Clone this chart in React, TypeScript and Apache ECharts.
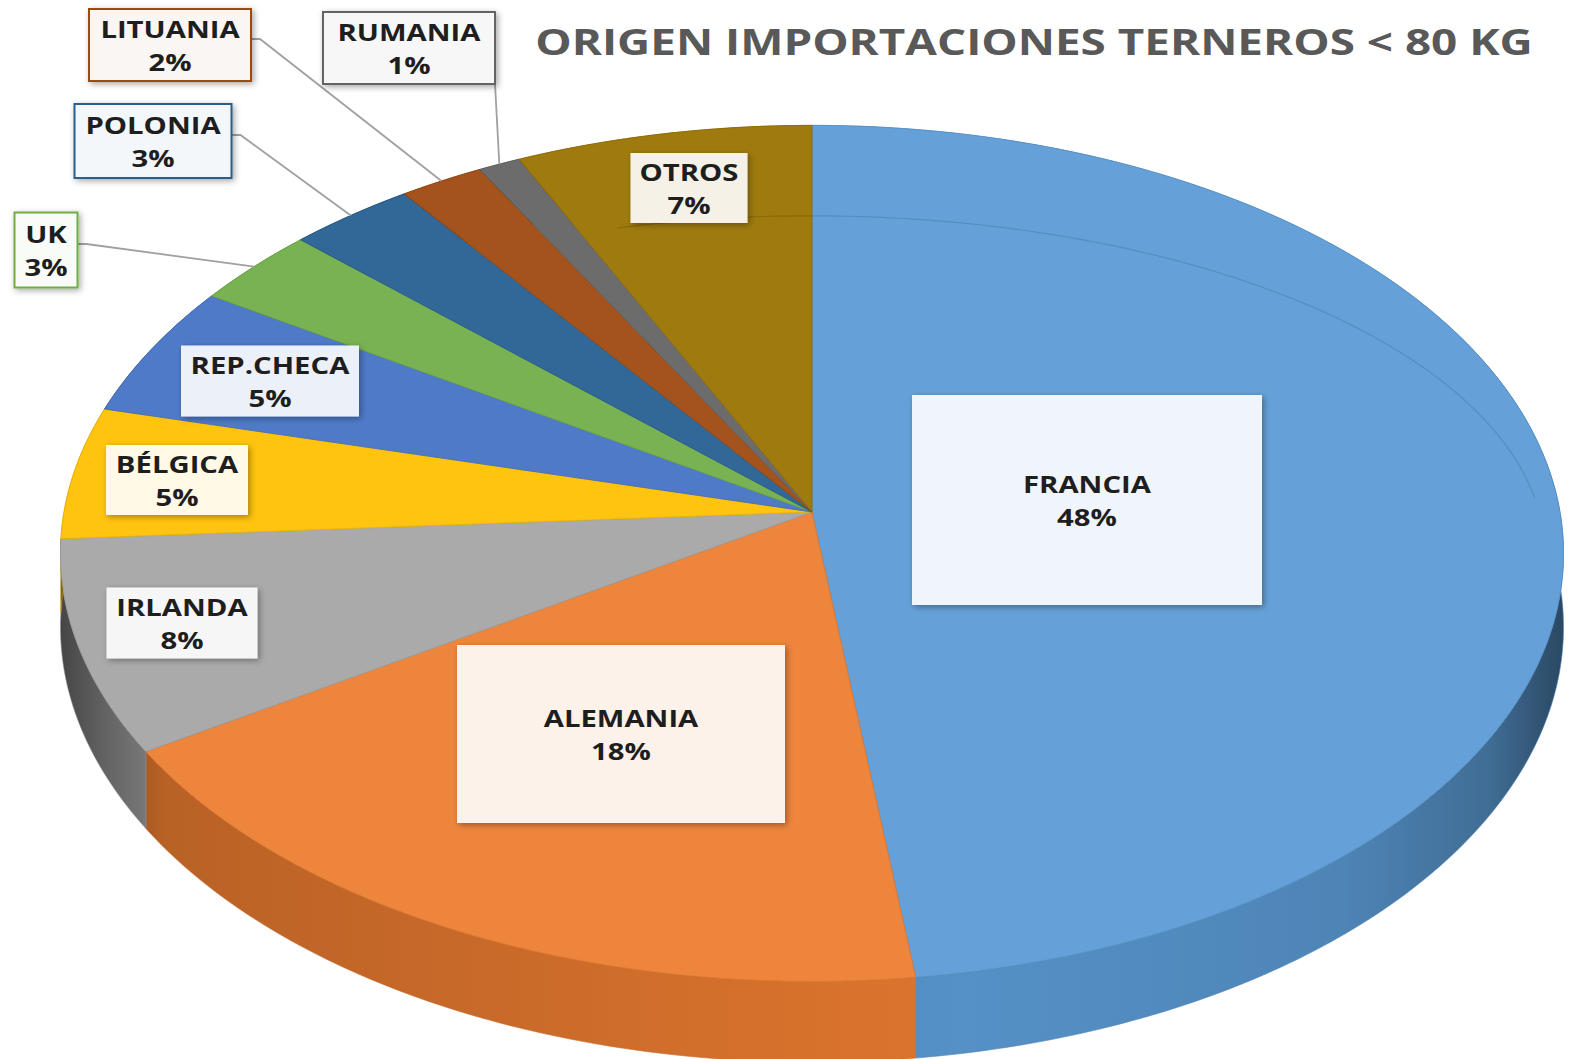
import React, { useEffect, useRef } from "react";
import * as echarts from "echarts";

// ---------- data ----------
const TITLE = "ORIGEN IMPORTACIONES TERNEROS < 80 KG";
const CATEGORIES = ["FRANCIA", "ALEMANIA", "IRLANDA", "BÉLGICA", "REP.CHECA", "UK", "POLONIA", "LITUANIA", "RUMANIA", "OTROS"];
const VALUES = [48, 18, 8, 5, 5, 3, 3, 2, 1, 7];
const COLORS = ["#5B9BD5", "#ED7D31", "#A5A5A5", "#FFC000", "#4472C4", "#70AD47", "#255E91", "#9E480E", "#636363", "#997300"];

// ---------- layout (label boxes: center x, center y, width, height, kind) ----------
const LABEL_LAYOUT: [number, number, number, number, string][] = [
  [1087, 500, 350, 210, "in"],
  [621, 734, 328, 178, "in"],
  [182, 623, 151, 71, "in"],
  [177, 480, 142, 70, "in"],
  [270, 381, 178, 71, "in"],
  [46, 250, 63, 75, "right"],
  [153, 141, 157, 74, "right"],
  [170, 45, 162, 72, "right"],
  [409, 48, 172, 72, "bottom"],
  [689, 188, 117, 70, "in"],
];

// pie geometry (3D perspective ellipse)
const CX = 812;
const CY = 512;
const RX = 748;
const RY = 424;
const PERSP = 0.0967;
const DEPTH = 73;
// angular range (deg, clockwise from top) of the faint reflection ring on the top face
const RING_FROM = -17;
const RING_TO = 86;

const TOTAL = VALUES.reduce((a, b) => a + b, 0);
const STARTS: number[] = [];
{
  let acc = 0;
  for (const v of VALUES) {
    STARTS.push((acc / TOTAL) * 360);
    acc += v;
  }
}

function proj(theta: number, r = 1, down = 0): [number, number] {
  const t = (theta * Math.PI) / 180;
  const u = r * Math.sin(t);
  const v = r * Math.cos(t);
  const k = 1 / (1 + PERSP * v);
  return [CX + RX * u * k, CY - RY * v * k + down * k];
}

function arc(a: number, b: number, down = 0): [number, number][] {
  const pts: [number, number][] = [];
  const n = Math.max(2, Math.ceil((b - a) / 0.8));
  for (let i = 0; i <= n; i++) pts.push(proj(a + ((b - a) * i) / n, 1, down));
  return pts;
}

function innerRing(a: number, b: number): [number, number][] {
  const pts: [number, number][] = [];
  const n = Math.max(2, Math.ceil((b - a) / 0.8));
  for (let i = 0; i <= n; i++) {
    const [x, y] = proj(a + ((b - a) * i) / n, 1);
    pts.push([CX + (x - CX) * 0.975, 556 - (556 - y) * 0.79]);
  }
  return pts;
}

function rgb(h: string): number[] {
  const n = parseInt(h.slice(1), 16);
  return [(n >> 16) & 255, (n >> 8) & 255, n & 255];
}
function shade(h: string, f: number): string {
  const [r, g, b] = rgb(h);
  return `rgb(${Math.round(r * f)},${Math.round(g * f)},${Math.round(b * f)})`;
}
function tint(h: string, t: number): string {
  const [r, g, b] = rgb(h);
  return `rgb(${Math.round(r + (255 - r) * t)},${Math.round(g + (255 - g) * t)},${Math.round(b + (255 - b) * t)})`;
}

const FONT_FAMILY = '"Open Sans", "DejaVu Sans", sans-serif';

function measure(text: string, font: string): number {
  const c = document.createElement("canvas").getContext("2d");
  if (!c) return 100;
  c.font = font;
  return c.measureText(text).width;
}

export default function App() {
  const ref = useRef<HTMLDivElement>(null);

  useEffect(() => {
    if (!ref.current) return;
    document.body.style.margin = "0";
    const chart = echarts.init(ref.current, undefined, { renderer: "svg" });

    const labelScale = 128 / measure("FRANCIA", `bold 24px ${FONT_FAMILY}`);
    const titleScale = 998 / measure(TITLE, `bold 35px ${FONT_FAMILY}`);

    const sideStops = [
      [0, 0.42],
      [0.03, 0.6],
      [0.07, 0.78],
      [0.4, 0.88],
      [0.6, 0.93],
      [0.85, 0.86],
      [0.95, 0.7],
      [1, 0.46],
    ];

    const data = VALUES.map((v, i) => ({ name: CATEGORIES[i], value: v }));

    const option: any = {
      animation: false,
      backgroundColor: "#ffffff",
      graphic: [
        {
          type: "text",
          x: 1034,
          y: 41,
          scaleX: titleScale,
          style: {
            text: TITLE,
            fill: "#595959",
            fontSize: 35,
            fontWeight: "bold",
            fontFamily: FONT_FAMILY,
            align: "center",
            verticalAlign: "middle",
          },
        },
      ],
      series: [
        {
          type: "custom",
          name: "side",
          coordinateSystem: "none",
          silent: true,
          z: 1,
          data,
          renderItem: (params: any, api: any) => {
            const i = params.dataIndex;
            const v = api.value(0);
            const a = STARTS[i];
            const b = a + (v / TOTAL) * 360;
            const top = arc(a, b, 0);
            const bot = arc(a, b, DEPTH).reverse();
            const c = COLORS[i];
            return {
              type: "polygon",
              shape: { points: top.concat(bot) },
              style: {
                fill: {
                  type: "linear",
                  x: 60,
                  y: 0,
                  x2: 1565,
                  y2: 0,
                  global: true,
                  colorStops: sideStops.map(([o, f]) => ({ offset: o, color: shade(c, f) })),
                },
                stroke: shade(c, 0.85),
                lineWidth: 0.6,
              },
            };
          },
        },
        {
          type: "custom",
          name: "top",
          coordinateSystem: "none",
          silent: true,
          z: 2,
          data,
          renderItem: (params: any, api: any) => {
            const i = params.dataIndex;
            const v = api.value(0);
            const a = STARTS[i];
            const b = a + (v / TOTAL) * 360;
            const c = COLORS[i];
            const pts = [proj(0, 0) as [number, number]].concat(arc(a, b, 0));
            const children: any[] = [
              {
                type: "polygon",
                shape: { points: pts },
                style: {
                  fill: tint(c, 0.06),
                  stroke: shade(c, 0.92),
                  lineWidth: 0.8,
                  lineJoin: "round",
                },
              },
            ];
            // faint reflection ring, clipped to this slice's angular range
            const aa = a > 180 ? a - 360 : a;
            const bb = a > 180 ? b - 360 : b;
            const s = Math.max(aa, RING_FROM);
            const e = Math.min(bb, RING_TO);
            if (e > s) {
              children.push({
                type: "polyline",
                shape: { points: innerRing(s, e) },
                style: { stroke: shade(c, 0.86), lineWidth: 1.2, opacity: 0.7, fill: null },
              });
            }
            return { type: "group", children };
          },
        },
        {
          type: "custom",
          name: "labels",
          coordinateSystem: "none",
          silent: true,
          z: 3,
          data,
          renderItem: (params: any, api: any) => {
            const i = params.dataIndex;
            const v = api.value(0);
            const [lx, ly, w, h, kind] = LABEL_LAYOUT[i];
            const c = COLORS[i];
            const pct = Math.round((v / TOTAL) * 100);
            const children: any[] = [];
            if (kind !== "in") {
              const mid = STARTS[i] + (v / TOTAL) * 180;
              const [tx, ty] = proj(mid, 1);
              const pts =
                kind === "right"
                  ? [
                      [lx + w / 2, ly - 6],
                      [lx + w / 2 + 9, ly - 6],
                      [tx, ty],
                    ]
                  : [
                      [lx + w / 2, ly + h / 2],
                      [tx, ty],
                    ];
              children.push({
                type: "polyline",
                shape: { points: pts },
                style: { stroke: "#A0A0A0", lineWidth: 1.8, fill: null },
              });
            }
            children.push({
              type: "rect",
              shape: { x: lx - w / 2, y: ly - h / 2, width: w, height: h },
              style: {
                fill: kind === "in" ? tint(c, 0.9) : tint(c, 0.95),
                stroke: kind === "in" ? null : c,
                lineWidth: 2,
                shadowBlur: 6,
                shadowColor: "rgba(0,0,0,0.35)",
                shadowOffsetX: 2,
                shadowOffsetY: 2,
              },
            });
            children.push({
              type: "text",
              x: lx,
              y: ly,
              scaleX: labelScale,
              style: {
                text: `${CATEGORIES[i]}\n${pct}%`,
                fill: "#1e1e1e",
                fontSize: 24,
                fontWeight: "bold",
                fontFamily: FONT_FAMILY,
                lineHeight: 33,
                align: "center",
                verticalAlign: "middle",
              },
            });
            return { type: "group", children };
          },
        },
      ],
    };

    chart.setOption(option);
    return () => chart.dispose();
  }, []);

  return (
    <div
      ref={ref}
      style={{ position: "fixed", left: 0, top: 0, width: 1570, height: 1059, background: "#fff" }}
    />
  );
}
